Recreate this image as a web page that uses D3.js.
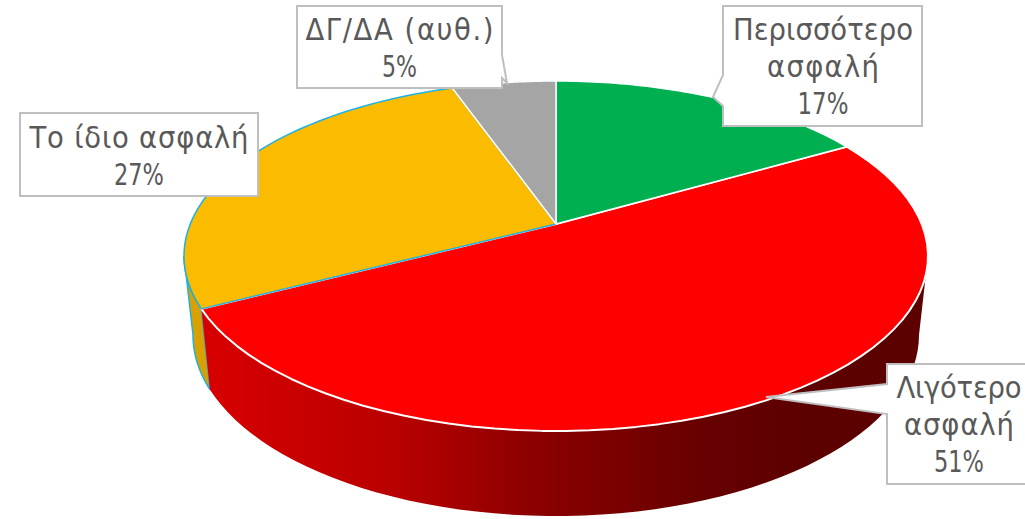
<!DOCTYPE html>
<html>
<head>
<meta charset="utf-8" />
<style>
html, body {
	margin: 0;
	background: #fff;
}
svg {
	display: block;
	overflow: hidden;
}
.label-text {
	font-family: "DejaVu Sans Condensed", "DejaVu Sans", sans-serif;
	font-stretch: condensed;
	font-size: 30.5px;
	fill: #595959;
	text-anchor: middle;
}
.callout {
	fill: #fff;
	stroke: #bfbfbf;
	stroke-width: 2;
}
</style>
</head>
<body>
<script src="https://cdn.jsdelivr.net/npm/d3@7"></script>
<script>
// clockwise from 12 o'clock
var categories = ["Περισσότερο ασφαλή", "Λιγότερο ασφαλή", "Το ίδιο ασφαλή", "ΔΓ/ΔΑ (αυθ.)"];
var shares = [16.7, 50.7, 27.2, 5.4];
var labelLines = [["Περισσότερο", "ασφαλή"], ["Λιγότερο", "ασφαλή"], ["Το ίδιο ασφαλή"], ["ΔΓ/ΔΑ (αυθ.)"]];
var topColors = ["#00b050", "#ff0000", "#fbbc00", "#a5a5a5"];
var edgeColors = ["#fff", "#fff", "#1eb1e3", "#fff"];

var width = 1025,
	height = 519;

// callout box, wedge points (base, tip, base), text placement and width of each text line
var boxes = [
	{x: 723, y: 6, w: 199, h: 120, wedge: [[723, 75], [713, 97], [723, 106]], side: "left", cx: 823, base: 40, widths: [180, 112, 51]},
	{x: 887, y: 364, w: 160, h: 120, wedge: [[887, 384], [766, 397], [887, 414]], side: "left", cx: 959, base: 398, widths: [125, 110, 50]},
	{x: 20, y: 113, w: 238, h: 83, wedge: null, cx: 139, base: 148, widths: [219, 50]},
	{x: 297, y: 6, w: 205, h: 82, wedge: [[502, 55], [507, 83], [502, 78]], side: "right", cx: 399.5, base: 40, widths: [188, 35]}
];
var lineStep = 37;

// top ellipse and bottom ellipse of the slab, in unit coords -1..1
var topX = d3.scaleLinear().domain([-1, 1]).range([184, 928]),
	topY = d3.scaleLinear().domain([-1, 1]).range([81, 431]),
	botX = d3.scaleLinear().domain([-1, 1]).range([193, 919]),
	botY = d3.scaleLinear().domain([-1, 1]).range([154, 516]);

// the pie apex is not at the ellipse centre because of the perspective
var apexY = (224 - topY(0)) / (topY(1) - topY(0));

function rim(a) {
	var u = Math.sin(a),
		v = -Math.cos(a),
		d = 1 + apexY * v;
	return {x: u * Math.sqrt(1 - apexY * apexY) / d, y: (v + apexY) / d};
}

function steps(a0, a1) {
	return d3.range(0, 61).map(function(i) { return a0 + (a1 - a0) * i / 60; });
}

var line = d3.line().x(function(d) { return d[0]; }).y(function(d) { return d[1]; });

var arcs = d3.pie().sort(null).value(function(d) { return d; })(shares);

var svg = d3.select("body").append("svg")
	.attr("width", width)
	.attr("height", height);

var grad = svg.append("defs").append("linearGradient")
	.attr("id", "redSide")
	.attr("gradientUnits", "userSpaceOnUse")
	.attr("x1", 205).attr("x2", 920).attr("y1", 0).attr("y2", 0);
[[0, "#d80000"], [0.27, "#b80000"], [0.45, "#8e0000"], [0.6, "#760000"], [0.7, "#660000"], [0.85, "#5c0000"], [1, "#5c0000"]].forEach(function(s) {
	grad.append("stop").attr("offset", s[0]).attr("stop-color", s[1]);
});

// sides, only the front part of the rim shows
var frontFrom = Math.acos(apexY),
	frontTo = 2 * Math.PI - frontFrom;

function sidePath(a) {
	var a0 = Math.max(a.startAngle, frontFrom),
		a1 = Math.min(a.endAngle, frontTo);
	if (a1 <= a0) return null;
	var pts = steps(a0, a1).map(rim);
	var upper = pts.map(function(p) { return [topX(p.x), topY(p.y)]; });
	var lower = pts.map(function(p) { return [botX(p.x), botY(p.y)]; }).reverse();
	return line(upper.concat(lower)) + "Z";
}

svg.append("path")
	.attr("d", sidePath(arcs[2]))
	.attr("fill", "#d9a000")
	.attr("stroke", edgeColors[2])
	.attr("stroke-width", 1.5);

svg.append("path")
	.attr("d", sidePath(arcs[1]))
	.attr("fill", "url(#redSide)");

// top face, yellow after red so the blue edge stays on their border
function slicePath(a) {
	var pts = steps(a.startAngle, a.endAngle).map(rim).map(function(p) {
		return [topX(p.x), topY(p.y)];
	});
	var apex = [topX(0), topY(apexY)];
	return line([apex].concat(pts)) + "Z";
}

[1, 0, 2, 3].forEach(function(i) {
	svg.append("path")
		.attr("d", slicePath(arcs[i]))
		.attr("fill", topColors[i])
		.attr("stroke", edgeColors[i])
		.attr("stroke-width", i == 1 ? 2 : 1.5)
		.attr("stroke-linejoin", "round");
});

// callouts and labels
boxes.forEach(function(b, i) {
	var pts = [[b.x, b.y], [b.x + b.w, b.y]];
	if (b.side == "right") pts = pts.concat(b.wedge);
	pts.push([b.x + b.w, b.y + b.h], [b.x, b.y + b.h]);
	if (b.side == "left") pts = pts.concat(b.wedge.slice().reverse());

	svg.append("path")
		.attr("class", "callout")
		.attr("d", line(pts) + "Z");

	var lines = labelLines[i].concat([Math.round(shares[i]) + "%"]);
	lines.forEach(function(t, j) {
		svg.append("text")
			.attr("class", "label-text")
			.attr("x", b.cx)
			.attr("y", b.base + j * lineStep)
			.attr("textLength", b.widths[j])
			// the percent line gets squeezed, spacing alone makes its glyphs collide
			.attr("lengthAdjust", j == lines.length - 1 ? "spacingAndGlyphs" : "spacing")
			.text(t);
	});
});
</script>
</body>
</html>
